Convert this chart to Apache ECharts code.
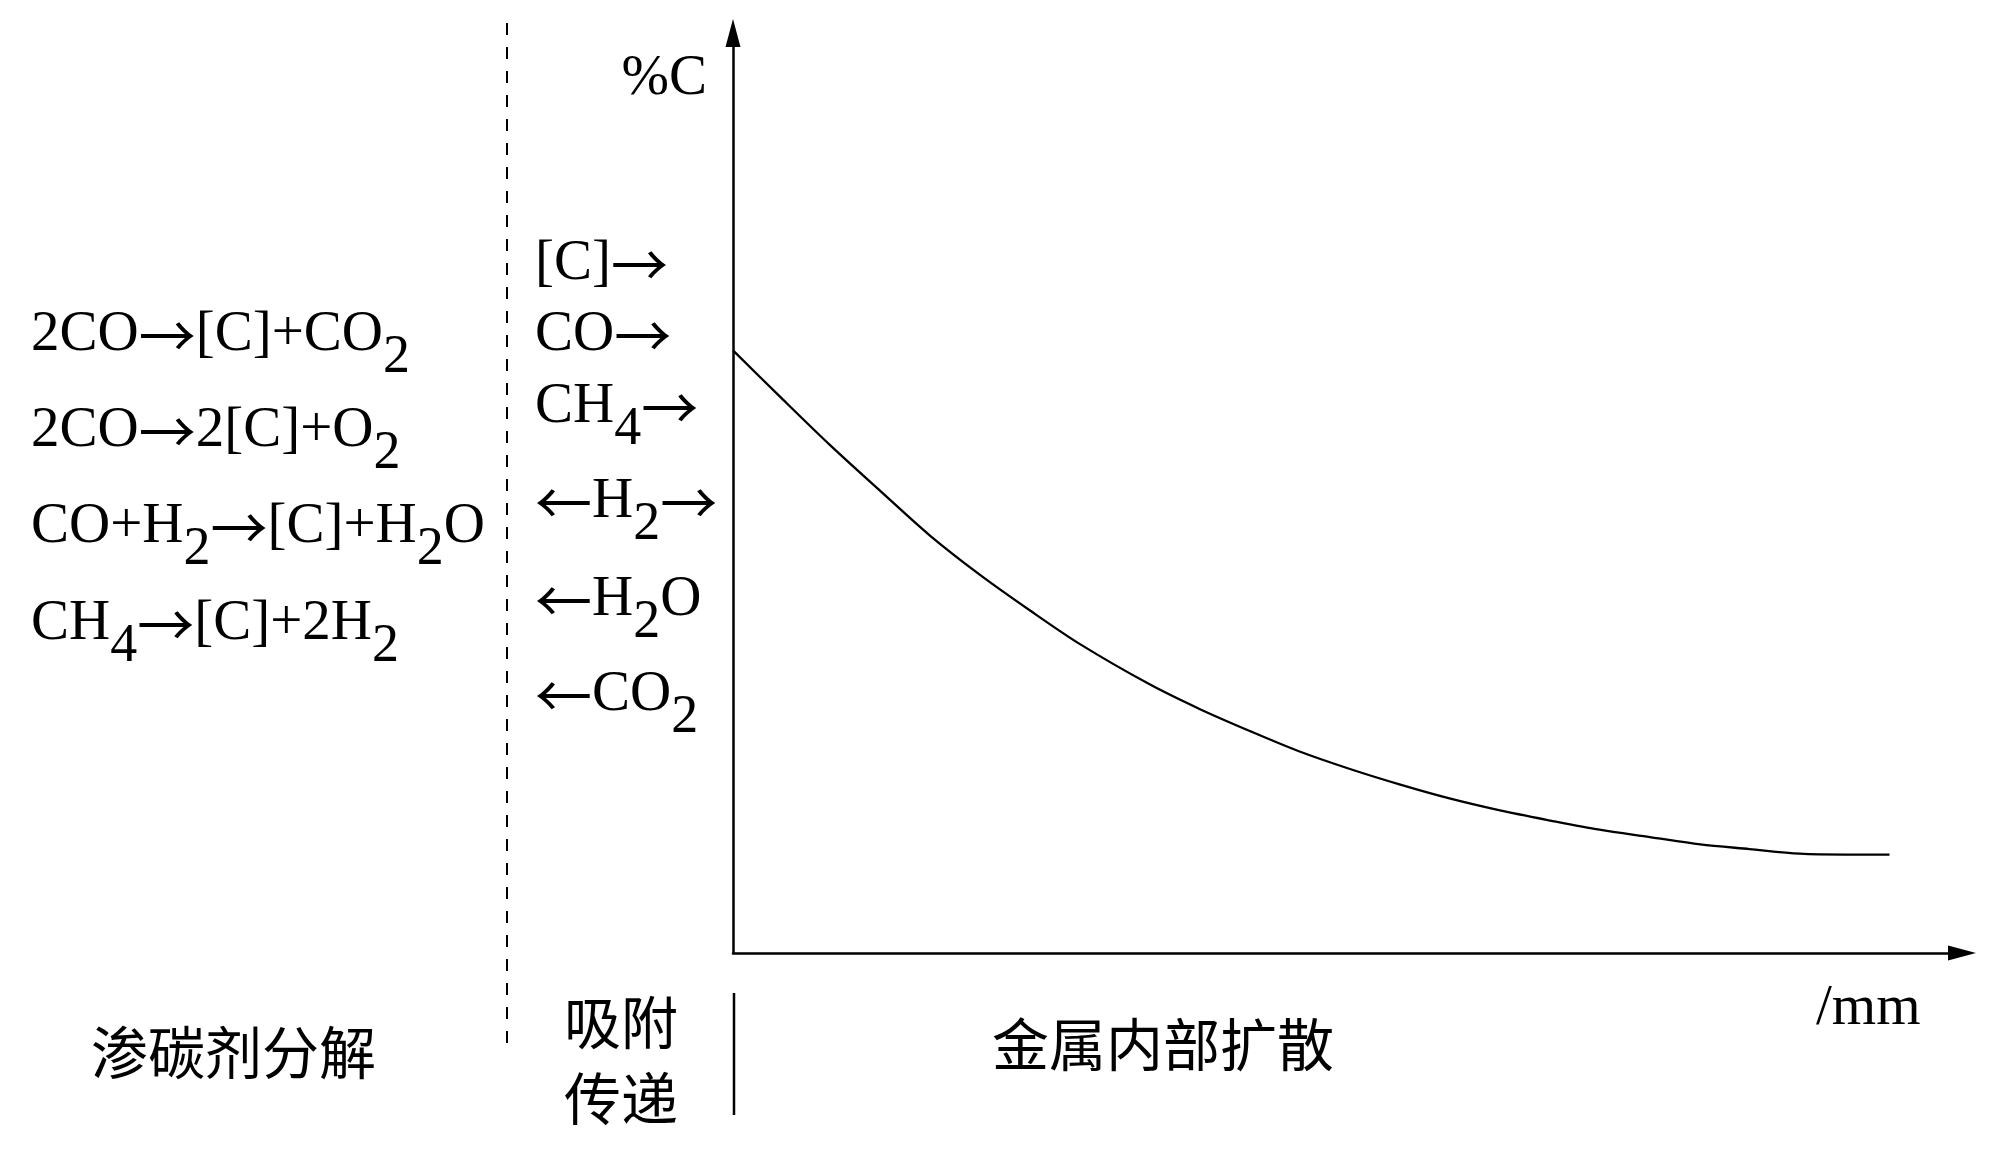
<!DOCTYPE html>
<html>
<head>
<meta charset="utf-8">
<script src="https://cdn.jsdelivr.net/npm/echarts@6/dist/echarts.min.js"></script>
<style>
html,body{margin:0;padding:0;background:#fff;}
#chart{width:1999px;height:1150px;}
</style>
</head>
<body>
<div id="chart"></div>
<script>
// ---- data ----
const depthMm = [0.00, 0.38, 0.79, 1.20, 1.60, 2.01, 2.42, 2.82, 3.39, 3.80, 4.21, 4.61, 5.02, 5.43, 5.83, 6.24, 6.65, 7.05, 7.46, 7.87, 8.27, 8.68, 9.05, 9.41];
const carbonPct = [0.655, 0.605, 0.552, 0.502, 0.454, 0.411, 0.372, 0.336, 0.292, 0.265, 0.241, 0.219, 0.200, 0.183, 0.168, 0.155, 0.144, 0.134, 0.126, 0.118, 0.113, 0.108, 0.107, 0.107];
const xAxisRange = [0, 10];
const yAxisRange = [0, 1];
const xAxisName = '/mm';
const yAxisName = '%C';
// "_d" marks a subscript digit
const reactions = ['2CO→[C]+CO_2', '2CO→2[C]+O_2', 'CO+H_2→[C]+H_2O', 'CH_4→[C]+2H_2'];
const transfers = ['[C]→', 'CO→', 'CH_4→', '←H_2→', '←H_2O', '←CO_2'];
const stageLabels = ['渗碳剂分解', '吸附', '传递', '金属内部扩散'];

// ---- styling / layout ----
const SERIF = '"Liberation Serif","Times New Roman",serif';
const CJK = '"Noto Sans CJK SC","Noto Sans",sans-serif';
const FS = 57;
const richStyles = {
  n: { fontSize: FS, fontFamily: SERIF, fill: '#000' },
  a: { fontSize: FS, fontFamily: CJK, fill: '#000' },
  s: { fontSize: 54, fontFamily: SERIF, fill: '#000', padding: [46, 0, 0, 0] }
};
function toRich(s) {
  return s.split(/(_\d|[→←])/).filter(Boolean).map(function (p) {
    if (p[0] === '_') return '{s|' + p.slice(1) + '}';
    if (p === '→' || p === '←') return '{a|' + p + '}';
    return '{n|' + p + '}';
  }).join('');
}
function formulaText(str, x, y) {
  return { type: 'text', x: x, y: y, z: 10,
    style: { text: toRich(str), rich: richStyles, align: 'left', verticalAlign: 'middle', fill: '#000' } };
}
function plainText(str, x, y, family, align) {
  return { type: 'text', x: x, y: y, z: 10,
    style: { text: str, fontSize: FS, fontFamily: family, fill: '#000', align: align || 'left', verticalAlign: 'middle' } };
}

const reactionY = [335, 431, 527, 624];
const transferY = [264, 335, 407, 502, 600, 695];

const graphics = [];
reactions.forEach(function (r, i) { graphics.push(formulaText(r, 31, reactionY[i])); });
transfers.forEach(function (t, i) { graphics.push(formulaText(t, 535, transferY[i])); });
graphics.push(plainText(stageLabels[0], 91, 1052, CJK));
graphics.push(plainText(stageLabels[1], 621, 1022, CJK, 'center'));
graphics.push(plainText(stageLabels[2], 621, 1098, CJK, 'center'));
graphics.push(plainText(stageLabels[3], 992, 1044, CJK));
graphics.push(plainText(xAxisName, 1816, 1009, SERIF));
// separators
graphics.push({ type: 'line', z: 5, shape: { x1: 507, y1: 23, x2: 507, y2: 1046 },
  style: { stroke: '#000', lineWidth: 2, lineDash: [12, 12] } });
graphics.push({ type: 'line', z: 5, shape: { x1: 734, y1: 993, x2: 734, y2: 1115 },
  style: { stroke: '#000', lineWidth: 2.5 } });

const axisLineStyle = { color: '#000', width: 2.5 };
const option = {
  backgroundColor: '#fff',
  animation: false,
  grid: { left: 733, top: 33, width: 1229, height: 920, containLabel: false },
  xAxis: {
    type: 'value', min: xAxisRange[0], max: xAxisRange[1],
    axisLine: { show: true, onZero: false, lineStyle: axisLineStyle, symbol: ['none', 'triangle'], symbolSize: [15, 28] },
    axisTick: { show: false }, axisLabel: { show: false }, splitLine: { show: false }
  },
  yAxis: {
    type: 'value', min: yAxisRange[0], max: yAxisRange[1],
    name: yAxisName, nameLocation: 'end', nameGap: -46,
    nameTextStyle: { fontSize: FS, fontFamily: SERIF, color: '#000', align: 'right', verticalAlign: 'middle', padding: [0, 26, 0, 0] },
    axisLine: { show: true, onZero: false, lineStyle: axisLineStyle, symbol: ['none', 'triangle'], symbolSize: [15, 28] },
    axisTick: { show: false }, axisLabel: { show: false }, splitLine: { show: false }
  },
  series: [{
    type: 'line',
    data: depthMm.map(function (x, i) { return [x, carbonPct[i]]; }),
    showSymbol: false, symbol: 'none',
    smooth: 0.3,
    lineStyle: { color: '#000', width: 2.3, join: 'round' },
    silent: true
  }],
  graphic: graphics
};
const chart = echarts.init(document.getElementById('chart'), null, { renderer: 'canvas' });
chart.setOption(option);
</script>
</body>
</html>
